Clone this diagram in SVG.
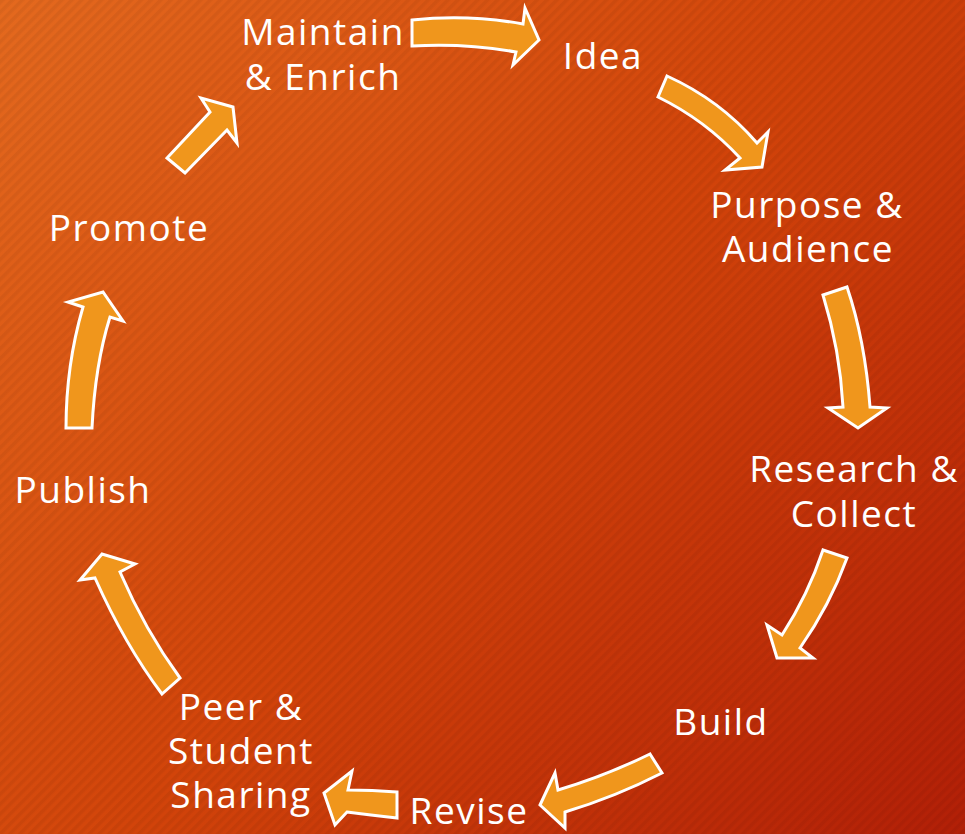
<svg xmlns="http://www.w3.org/2000/svg" width="965" height="834" viewBox="0 0 965 834">
<defs>
<linearGradient id="bg" x1="0" y1="0" x2="965" y2="834" gradientUnits="userSpaceOnUse">
<stop offset="0" stop-color="#e4691e"/>
<stop offset="0.5" stop-color="#d2440a"/>
<stop offset="1" stop-color="#b21f07"/>
</linearGradient>
<pattern id="stripes" width="7" height="7" patternUnits="userSpaceOnUse" patternTransform="rotate(45)">
<rect x="0" y="0" width="3.5" height="7" fill="#000" opacity="0.05"/>
</pattern>
<style>
.arrow{fill:#f0961c;stroke:#ffffff;stroke-width:3;stroke-linejoin:miter}
.lbl{font-family:"Open Sans","Liberation Sans",sans-serif;font-size:37px;letter-spacing:1.5px;fill:#ffffff;text-anchor:middle}
</style>
</defs>
<rect width="965" height="834" fill="url(#bg)"/>
<rect width="965" height="834" fill="url(#stripes)"/>
<g id="connectors">
<path class="arrow" d="M412,20 Q468,14 523,24 L525,8 L539,40 L513,65 L516,52 Q466,43 412,46 Z"/>
<path class="arrow" d="M667,76 Q720,100 757,143 L768,132 L762,167 L725,170 L740,158 Q705,120 658,97 Z"/>
<path class="arrow" d="M823,295 L847,287 Q865,340 870,407 L887,408 L858,428 L828,408 L843,407 Q840,350 823,295 Z"/>
<path class="arrow" d="M823,550 L847,558 Q830,605 800,648 L813,658 L777,658 L767,625 L782,635 Q808,595 823,550 Z"/>
<path class="arrow" d="M650,754 L662,773 Q615,797 565,812 L565,828 L540,805 L555,773 L558,790 Q605,776 650,754 Z"/>
<path class="arrow" d="M397,792 L397,818 Q370,815 347,812 L335,825 L324,793 L352,771 L348,790 Q372,790 397,792 Z"/>
<path class="arrow" d="M162,694 L180,678 Q145,630 120,572 L135,564 L102,554 L80,580 L95,578 Q125,645 162,694 Z"/>
<path class="arrow" d="M66,428 L92,428 Q95,365 110,317 L123,321 L103,292 L68,302 L83,307 Q66,365 66,428 Z"/>
<path class="arrow" d="M167,158 L185,173 L227,130 L237,143 L233,107 L201,98 L210,112 Z"/>
</g>
<g id="maintain"><text class="lbl" x="323" y="45">Maintain</text><text class="lbl" x="323" y="90">&amp; Enrich</text></g>
<g id="idea"><text class="lbl" x="603" y="69">Idea</text></g>
<g id="purpose"><text class="lbl" x="807" y="218">Purpose &amp;</text><text class="lbl" x="808" y="262">Audience</text></g>
<g id="research"><text class="lbl" x="854" y="482">Research &amp;</text><text class="lbl" x="854" y="527">Collect</text></g>
<g id="build"><text class="lbl" x="721" y="735">Build</text></g>
<g id="revise"><text class="lbl" x="469" y="824">Revise</text></g>
<g id="peer"><text class="lbl" x="241" y="720">Peer &amp;</text><text class="lbl" x="241" y="764">Student</text><text class="lbl" x="241" y="808">Sharing</text></g>
<g id="publish"><text class="lbl" x="83" y="503">Publish</text></g>
<g id="promote"><text class="lbl" x="129" y="241">Promote</text></g>
</svg>
